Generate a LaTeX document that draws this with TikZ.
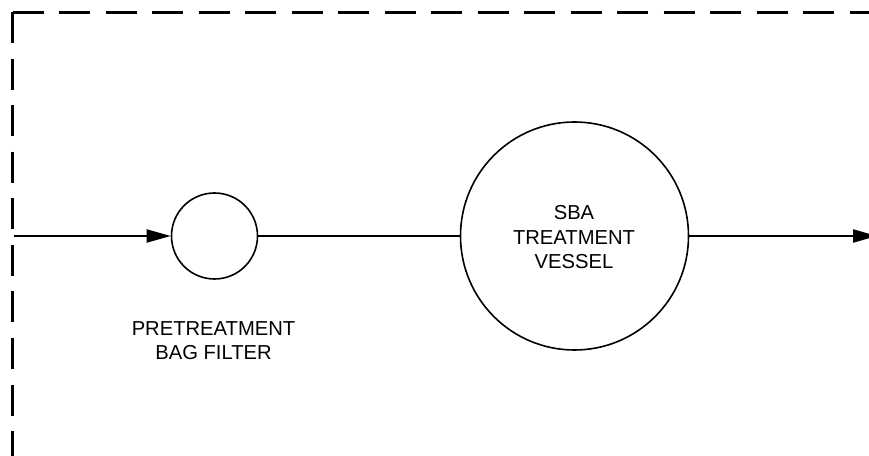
\documentclass[tikz,border=0pt]{standalone}
\usepackage{fontspec}
\setmainfont{Liberation Sans}
\usetikzlibrary{arrows.meta}
\begin{document}
\begin{tikzpicture}[x=1pt,y=1pt,
  border/.style={line width=2.2pt, dash pattern=on 31pt off 15.5pt, line cap=butt},
  vessel/.style={circle, draw, line width=1.6pt, inner sep=0pt},
  flow/.style={line width=2pt},
  flowarrow/.style={flow, -{Triangle[length=24pt,width=13pt]}},
  lbl/.style={font=\fontsize{20.2}{24.5}\selectfont, align=center, inner sep=0pt}]
\useasboundingbox (0,0) rectangle (869,455);
% dashed boundary
\coordinate (corner) at (12.5,442.5);
\coordinate (bottomend) at (12.5,-30);
\coordinate (rightend) at (900,442.5);
\draw[border] (corner) -- (bottomend);
\draw[border] (corner) -- (rightend);
% equipment
\node[vessel, minimum size=86pt] (filter) at (214.5,219) {};
\node[vessel, minimum size=228pt] (sba) at (574.5,219) {};
\node[lbl] (sbatext) at (574,217.5) {SBA\\TREATMENT\\VESSEL};
\node[lbl] (filtertext) at (213.5,114.5) {PRETREATMENT\\BAG FILTER};
% flow lines
\coordinate (inlet) at (13.5,219);
\coordinate (outlet) at (877,219);
\draw[flowarrow] (inlet) -- (filter.west);
\draw[flow] (filter.east) -- (sba.west);
\draw[flowarrow] (sba.east) -- (outlet);
\end{tikzpicture}
\end{document}
